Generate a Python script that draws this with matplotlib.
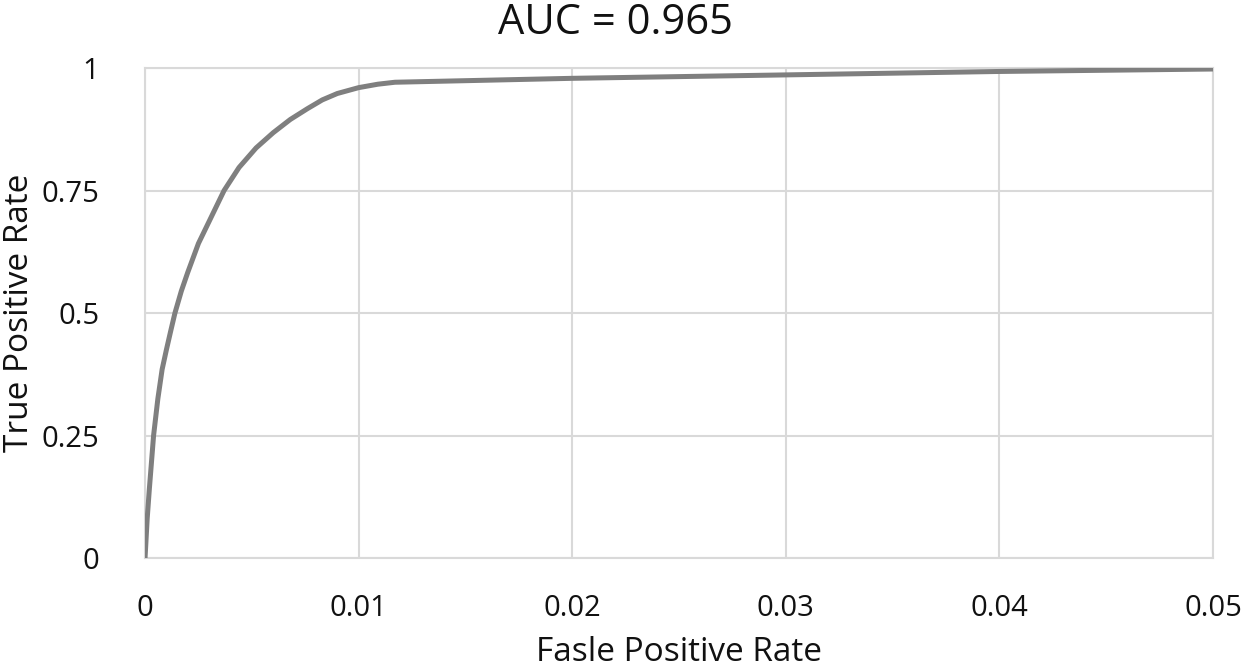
import matplotlib
matplotlib.use('Agg')
from matplotlib import pyplot as plt

plt.rcParams['font.family'] = ['Open Sans', 'DejaVu Sans']

# ROC curve
fpr = [0, 0.0001, 0.0002, 0.0004, 0.0006, 0.0008, 0.001, 0.0012, 0.0014,
       0.0017, 0.002, 0.0025, 0.003, 0.0037, 0.0044, 0.0052, 0.006, 0.0068,
       0.0076, 0.0083, 0.009, 0.01, 0.0109, 0.0117, 0.02, 0.03, 0.04, 0.05]
tpr = [0, 0.08, 0.14, 0.25, 0.325, 0.385, 0.425, 0.463, 0.5,
       0.545, 0.583, 0.642, 0.687, 0.75, 0.797, 0.837, 0.868, 0.895,
       0.917, 0.935, 0.948, 0.960, 0.967, 0.971, 0.979, 0.986, 0.993, 0.998]

xticks = [0, 0.01, 0.02, 0.03, 0.04, 0.05]
xticklabels = ['0', '0.01', '0.02', '0.03', '0.04', '0.05']
yticks = [0, 0.25, 0.5, 0.75, 1]
yticklabels = ['0', '0.25', '0.5', '0.75', '1']

grid_color = '#d9d9d9'

fig = plt.figure(figsize=(12.45, 6.67), dpi=100)
ax = fig.add_axes([0.1165, 0.1634, 0.8578, 0.7346])

ax.plot(fpr, tpr, color='#7f7f7f', linewidth=3.6, solid_joinstyle='round',
        solid_capstyle='round', zorder=3)

ax.set_xlim(0, 0.05)
ax.set_ylim(0, 1)
ax.set_xticks(xticks)
ax.set_xticklabels(xticklabels)
ax.set_yticks(yticks)
ax.set_yticklabels(yticklabels)
ax.tick_params(axis='both', length=0, labelsize=21, labelcolor='#111111')
ax.tick_params(axis='x', pad=26)
ax.tick_params(axis='y', pad=33)

ax.grid(True, color=grid_color, linewidth=1.5)
ax.set_axisbelow(True)
for s in ax.spines.values():
    s.set_color(grid_color)
    s.set_linewidth(1.5)

ax.set_xlabel('Fasle Positive Rate', fontsize=24, color='#111111')
ax.xaxis.set_label_coords(0.5, -0.192)
ax.xaxis.label.set_verticalalignment('center')
ax.set_ylabel('True Positive Rate', fontsize=24, color='#111111')
ax.yaxis.set_label_coords(-0.118, 0.5)
ax.yaxis.label.set_verticalalignment('center')

fig.text(0.494, 0.965, 'AUC = 0.965', fontsize=30, ha='center', va='center',
         color='#111111')

plt.savefig('out.png', dpi=100)
